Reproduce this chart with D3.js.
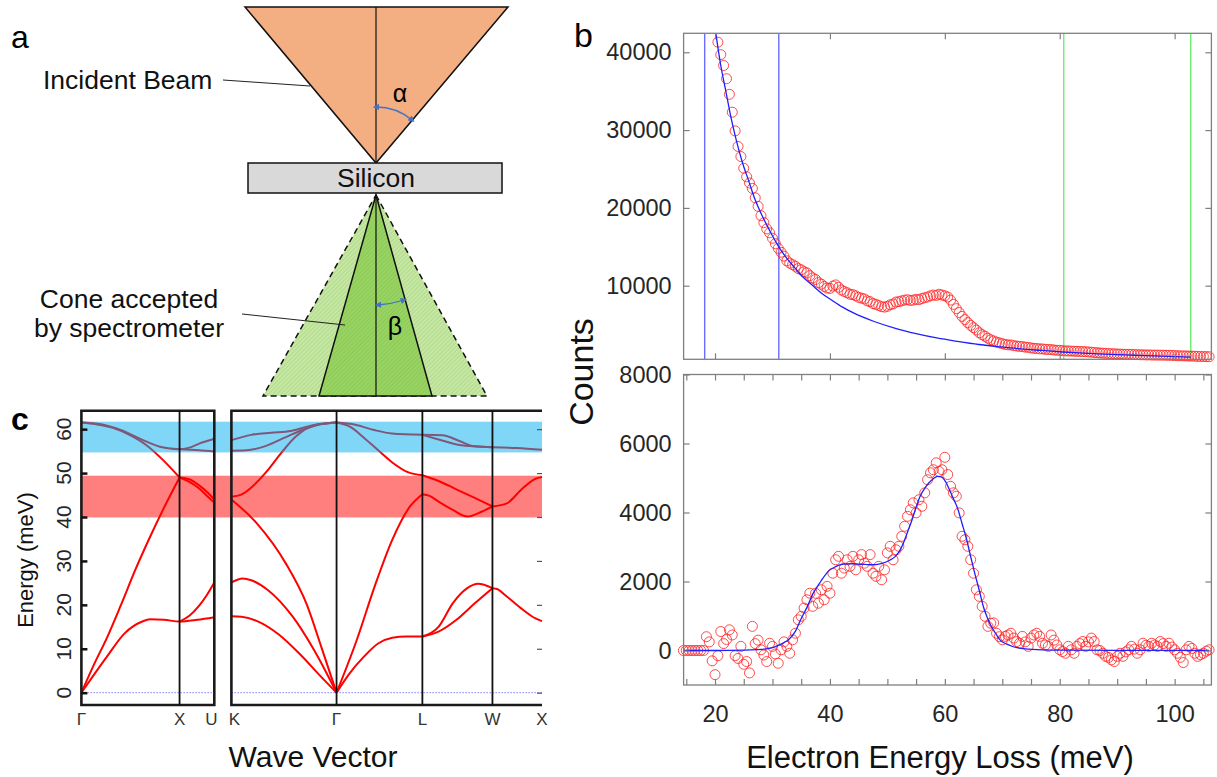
<!DOCTYPE html>
<html>
<head>
<meta charset="utf-8">
<script src="https://cdnjs.cloudflare.com/ajax/libs/d3/7.8.5/d3.min.js"></script>
<style>
  body { margin: 0; background: #fff; }
  svg { display: block; font-family: "Liberation Sans", Arial, sans-serif; }
</style>
</head>
<body>
<script>
// ---------------- data ----------------
// panel b, raw spectrum (counts), energies start at 20.5 meV, 0.5 meV channels
const rawStart = 20.5, channelStep = 0.5;
const rawCounts = [
  41300, 39700, 38300, 36600, 34600, 32300, 29900, 27900, 26600, 25100,
  24000, 23200, 22500, 21300, 20200, 19000, 18100, 17300, 16800, 16100,
  15400, 14800, 14300, 13800, 13200, 12900, 12700, 12500, 12200, 12050,
  11800, 11650, 11300, 11000, 10800, 10400, 10200, 9900, 9700, 9650,
  9950, 10100, 9800, 9450, 9250, 9100, 8900, 8850, 8700, 8500,
  8400, 8300, 8050, 7950, 7700, 7600, 7450, 7300, 7250, 7350,
  7550, 7650, 7900, 7950, 8050, 8150, 8200, 8100, 8150, 8250,
  8200, 8350, 8450, 8550, 8700, 8800, 8750, 8900, 8800, 8700,
  8550, 8150, 7600, 7050, 6550, 6050, 5650, 5250, 4900, 4600,
  4300, 3950, 3700, 3500, 3250, 3050, 2900, 2750, 2650, 2550,
  2450, 2400, 2380, 2300, 2250, 2200, 2180, 2100, 2080, 2000,
  1950, 1930, 1880, 1870, 1820, 1800, 1790, 1740, 1700, 1690,
  1650, 1620, 1610, 1590, 1580, 1560, 1550, 1530, 1520, 1480,
  1460, 1410, 1390, 1350, 1330, 1300, 1290, 1260, 1250, 1220,
  1210, 1190, 1180, 1180, 1160, 1150, 1140, 1120, 1120, 1100,
  1100, 1090, 1080, 1080, 1070, 1070, 1060, 1050, 1040, 1020,
  1000, 990, 985, 970, 960, 950, 935, 920, 905, 895,
  885, 870
];
// power-law background fit
const bgEnergy = [18.2, 19, 20.15, 21, 21.8, 22.7, 23.6, 24.7, 25.8, 26.9, 28, 29.5, 31.1, 32.5, 33.9,
  35.3, 36.8, 38.6, 40.4, 42.2, 44.1, 47.7, 51.4, 55, 58.6, 62.2, 65.9, 69.5, 73.2, 76.8, 80.5,
  84.1, 87.8, 91.4, 95.1, 98.9, 102.8];
const bgCounts = [54000, 48800, 42400, 38300, 35300, 31900, 29000, 26000, 23600, 21200, 19300, 17100, 15000, 13500, 12300,
  11100, 10150, 9000, 8100, 7250, 6500, 5400, 4520, 3840, 3280, 2840, 2440, 2150, 1880, 1680, 1480,
  1330, 1210, 1100, 1000, 910, 830];
const fitWindow = [18.2, 31.1];   // blue markers
const bgWindow = [80.7, 102.8];   // green markers

// background subtracted spectrum, energies start at 14.5 meV
const subStart = 14.5;
const subCounts = [
  0, 0, 0, 0, 0, 0, 0, 0, 400, 250,
  -300, -700, -150, 550, 200, 320, 600, 450, -150, -230,
  120, -400, -320, -650, 700, 200, 300, 20, -130, -320,
  210, 120, -100, -370, 20, 250, 120, -80, 310, 500,
  890, 990, 1230, 1470, 1660, 1280, 1660, 1370, 1760, 1470,
  1860, 1660, 2240, 2630, 2730, 2240, 2390, 2630, 2440, 2730,
  2340, 2630, 2780, 2530, 2440, 2780, 2240, 2150, 2440, 2050,
  2340, 2830, 3020, 2630, 2920, 3020, 3310, 3600, 3890, 4080,
  4280, 3990, 4370, 4180, 4570, 4950, 5150, 5240, 5440, 5190,
  5240, 5600, 5100, 4760, 4570, 4470, 3990, 3310, 3210, 3020,
  2630, 2240, 1760, 1570, 1280, 990, 700, 790, 800, 500,
  400, 310, 410, 450, 500, 360, 260, 210, 410, 250,
  120, 360, 450, 500, 410, 210, 160, 120, 450, 300,
  160, 20, -30, -80, 120, 20, -80, 120, 200, 260,
  120, 250, 360, 260, 20, 0, -80, -170, -200, -270,
  -320, -170, -80, -170, -40, 20, 120, 40, -80, 20,
  210, 150, 120, 210, 160, 120, 260, 200, 120, 210,
  100, 20, -80, -200, -350, 20, 120, 60, -80, -170,
  -120, -80, -20, 20
];
const peakFitEnergy = [14.5, 20, 25, 28, 30, 31, 32, 32.8, 34, 34.9, 36, 37.1, 38.4, 39.7, 41, 41.9, 43, 44.1,
  45.5, 47, 48, 49.2, 50.3, 51.4, 52.1, 52.8, 53.5, 54.3, 55, 55.7, 56.5, 57.2, 58, 58.7, 59.4, 60.1,
  60.8, 61.5, 62.3, 63, 63.8, 64.5, 65.2, 66, 66.7, 67.4, 68.1, 68.9, 69.6, 70.7, 71.8, 73, 74.7, 77,
  80.5, 90, 106];
const peakFitCounts = [0, 0, 10, 30, 80, 150, 230, 310, 560, 890, 1250, 1664, 2000, 2293, 2430, 2486, 2510, 2515,
  2500, 2486, 2490, 2534, 2610, 2728, 2880, 3115, 3430, 3792, 4150, 4469, 4700, 4856, 4980, 5049, 5030, 4900,
  4662, 4400, 4082, 3680, 3211, 2720, 2244, 1740, 1277, 950, 696, 480, 310, 190, 116, 70, 39, 20,
  10, 3, 0];
const rawYTicks = [10000, 20000, 30000, 40000];
const subYTicks = [0, 2000, 4000, 6000, 8000];
const energyTicks = d3.range(15, 106, 5);
const energyLabels = [20, 40, 60, 80, 100];

// panel c, silicon phonon dispersion [k, meV]
const leftPath = ["Γ", "X", "U"], leftPathK = [0, 1, 1.354];
const rightPath = ["K", "Γ", "L", "W", "X"], rightPathK = [0, 1.061, 1.927, 2.634, 3.134];
const leftBranches = [
  [[0,0],[0.1,3.2],[0.26,8.2],[0.44,13.5],[0.62,16.2],[0.7,16.7],[0.84,16.6],[1,16.2],[1.18,16.6],[1.354,17.2]],
  [[1,16.2],[1.1,17.5],[1.2,19.8],[1.28,22.3],[1.354,25.1]],
  [[0,0],[0.13,6.5],[0.26,12.5],[0.4,19.8],[0.55,28],[0.7,35.5],[0.85,42.5],[1,49]],
  [[1,49],[1.1,48.6],[1.2,47.2],[1.28,45.7],[1.354,44]],
  [[0,61.5],[0.15,61.1],[0.32,60.3],[0.49,58.7],[0.66,56.4],[0.83,53],[1,49]],
  [[1,49],[1.1,48],[1.2,46.5],[1.28,44.8],[1.354,43.3]],
  [[0,61.5],[0.2,61.1],[0.4,59.8],[0.6,57.8],[0.8,56],[1,55.4]],
  [[1,55.4],[1.2,55.2],[1.354,54.9]],
  [[1,55.4],[1.1,55.8],[1.2,56.7],[1.354,57.8]]
];
const rightBranches = [
  // K - Γ
  [[0,17.4],[0.1,17.3],[0.26,16.3],[0.475,13.3],[0.69,8.8],[0.906,3.6],[1.061,0]],
  [[0,25.1],[0.115,26],[0.2,25.6],[0.367,23.4],[0.619,17.3],[0.834,9.7],[1.061,0]],
  [[0,44],[0.259,38.5],[0.547,29.5],[0.762,20],[0.906,10.5],[1.061,0]],
  [[0,44.6],[0.1,45.1],[0.2,46.7],[0.35,50.2],[0.5,54.5],[0.65,58.3],[0.85,61],[1.061,61.5]],
  [[0,57.5],[0.2,58.7],[0.4,59.2],[0.6,59.6],[0.8,60.8],[1.061,61.5]],
  [[0,55.1],[0.15,55.2],[0.35,56.2],[0.55,58.2],[0.75,60.1],[0.9,61.1],[1.061,61.5]],
  // Γ - L
  [[1.061,0],[1.193,4.4],[1.337,8.2],[1.48,11.2],[1.623,12.5],[1.766,12.8],[1.927,12.8]],
  [[1.061,0],[1.265,12],[1.444,24.1],[1.623,34.8],[1.802,42.4],[1.927,45.2]],
  [[1.061,61.5],[1.2,60.5],[1.34,58],[1.49,55],[1.63,52.3],[1.78,50.2],[1.927,49.5]],
  [[1.061,61.5],[1.25,61],[1.44,59.8],[1.62,59],[1.927,58.7]],
  // L - W
  [[1.927,12.8],[2.09,15],[2.235,20.4],[2.38,23.8],[2.489,24.8],[2.634,23.8]],
  [[1.927,12.8],[2.09,13.9],[2.271,16.6],[2.453,20.3],[2.634,23.8]],
  [[1.927,45.2],[2.0,44.8],[2.09,43.5],[2.235,41.6],[2.38,40.1],[2.525,41.2],[2.634,42.4]],
  [[1.927,49.5],[2.09,48.2],[2.27,46.3],[2.45,44.4],[2.634,42.4]],
  [[1.927,58.7],[2.13,58.6],[2.3,57.3],[2.45,56.1],[2.634,55.9]],
  [[1.927,58.7],[2.1,57.6],[2.3,56.4],[2.634,55.9]],
  // W - X
  [[2.634,23.8],[2.68,23.6],[2.779,21.9],[2.924,19.2],[3.069,16.9],[3.134,16.3]],
  [[2.634,42.4],[2.779,43.1],[2.924,46.2],[3.069,48.7],[3.134,49.1]],
  [[2.634,55.9],[2.88,55.7],[3.134,55.3]]
];
const opticalBand = [54.7, 61.7];
const peakBand = [39.9, 49.4];
const dispersionTicks = [0, 10, 20, 30, 40, 50, 60];

// ---------------- figure ----------------
const svg = d3.select("body").append("svg")
  .attr("width", 1217)
  .attr("height", 777);

const defs = svg.append("defs");

function hatch(id, bg, fg) {
  const p = defs.append("pattern")
    .attr("id", id)
    .attr("width", 3)
    .attr("height", 3)
    .attr("patternUnits", "userSpaceOnUse")
    .attr("patternTransform", "rotate(45)");
  p.append("rect").attr("width", 3).attr("height", 3).attr("fill", bg);
  p.append("line").attr("x1", 0).attr("y1", 0).attr("x2", 0).attr("y2", 3)
    .attr("stroke", fg).attr("stroke-width", 1.2);
}
hatch("hatchOuter", "#c6e7a5", "#a3d477");
hatch("hatchInner", "#98d363", "#84c54c");

["arrowEnd", "arrowStart"].forEach((id, i) => {
  defs.append("marker")
    .attr("id", id)
    .attr("viewBox", "0 0 10 10")
    .attr("refX", 5).attr("refY", 5)
    .attr("markerWidth", 5).attr("markerHeight", 5)
    .attr("orient", i === 0 ? "auto" : "auto-start-reverse")
    .append("path")
    .attr("d", "M0,0 L10,5 L0,10 z")
    .attr("fill", "#4472c4");
});

// ---- panel a: schematic ----
const pa = svg.append("g");

pa.append("text").attr("x", 11).attr("y", 48)
  .style("font-size", "32px").text("a");

pa.append("path")
  .attr("d", "M245,7 L508,7 L376,163 Z")
  .attr("fill", "#f3ae82")
  .attr("stroke", "#111")
  .attr("stroke-width", 1.5);
pa.append("line").attr("x1", 376).attr("y1", 7).attr("x2", 376).attr("y2", 163)
  .attr("stroke", "#111").attr("stroke-width", 1.2);
pa.append("path")
  .attr("d", "M376,107 A56,56 0 0 1 412,120")
  .attr("fill", "none").attr("stroke", "#4472c4").attr("stroke-width", 1.3)
  .attr("marker-start", "url(#arrowStart)").attr("marker-end", "url(#arrowEnd)");
pa.append("text").attr("x", 400).attr("y", 102).attr("text-anchor", "middle")
  .style("font-size", "25px").text("α");

pa.append("line").attr("x1", 223).attr("y1", 80).attr("x2", 310).attr("y2", 86)
  .attr("stroke", "#222").attr("stroke-width", 1);
pa.append("text").attr("x", 43).attr("y", 89)
  .style("font-size", "26.5px").style("fill", "#111").text("Incident Beam");

pa.append("rect").attr("x", 248).attr("y", 163).attr("width", 254).attr("height", 30)
  .attr("fill", "#d9d9d9").attr("stroke", "#111").attr("stroke-width", 1.5);
pa.append("text").attr("x", 376).attr("y", 187).attr("text-anchor", "middle")
  .style("font-size", "26.5px").style("fill", "#111").text("Silicon");

// acceptance cone
pa.append("path")
  .attr("d", "M376,195 L487,396 L263,396 Z")
  .attr("fill", "url(#hatchOuter)")
  .attr("stroke", "#111").attr("stroke-width", 1.5)
  .attr("stroke-dasharray", "6,4");
pa.append("path")
  .attr("d", "M376,195 L432,396 L319,396 Z")
  .attr("fill", "url(#hatchInner)")
  .attr("stroke", "#111").attr("stroke-width", 1.5);
pa.append("line").attr("x1", 376).attr("y1", 195).attr("x2", 376).attr("y2", 396)
  .attr("stroke", "#111").attr("stroke-width", 1.2);
pa.append("path")
  .attr("d", "M378,305 A110,110 0 0 0 404,300")
  .attr("fill", "none").attr("stroke", "#4472c4").attr("stroke-width", 1.3)
  .attr("marker-start", "url(#arrowStart)").attr("marker-end", "url(#arrowEnd)");
pa.append("text").attr("x", 395).attr("y", 335).attr("text-anchor", "middle")
  .style("font-size", "25px").text("β");

pa.append("line").attr("x1", 242).attr("y1", 314).attr("x2", 345).attr("y2", 325)
  .attr("stroke", "#222").attr("stroke-width", 1);
pa.append("text").attr("x", 129).attr("y", 308).attr("text-anchor", "middle")
  .style("font-size", "26.5px").style("fill", "#111").text("Cone accepted");
pa.append("text").attr("x", 129).attr("y", 337).attr("text-anchor", "middle")
  .style("font-size", "26.5px").style("fill", "#111").text("by spectrometer");

// ---- panel b: spectra ----
const bx = d3.scaleLinear().domain([14.53, 106.4]).range([683.6, 1211.4]);
const yTop = d3.scaleLinear().domain([540, 42440]).range([359.3, 33.3]);
const yBot = d3.scaleLinear().domain([-1000, 8000]).range([685, 374.5]);

const rawData = rawCounts.map((c, i) => ({ e: rawStart + i * channelStep, c }));
const subData = subCounts.map((c, i) => ({ e: subStart + i * channelStep, c }));
const bgData = bgEnergy.map((e, i) => ({ e, c: bgCounts[i] }));
const peakData = peakFitEnergy.map((e, i) => ({ e, c: peakFitCounts[i] }));

function clip(id, y0, y1) {
  defs.append("clipPath").attr("id", id)
    .append("rect")
    .attr("x", bx.range()[0]).attr("y", y0)
    .attr("width", bx.range()[1] - bx.range()[0]).attr("height", y1 - y0);
}
clip("clipTop", 33.3, 359.3);
clip("clipBot", 374.5, 685);

function styleAxis(g, labelSize) {
  g.select(".domain").remove();
  g.selectAll(".tick line").attr("stroke", "#7f7f7f").attr("stroke-width", 1.2);
  g.selectAll(".tick text")
    .style("font-size", labelSize)
    .style("font-family", "'Liberation Sans', Arial, sans-serif")
    .attr("fill", "#262626");
}

function spectrumAxes(y, yTicks, xTickVals, xLabels) {
  const g = svg.append("g");
  const [x0, x1] = bx.range();
  const [yb, yt] = y.range();
  g.append("g").attr("transform", `translate(${x0},0)`)
    .call(d3.axisLeft(y).tickValues(yTicks).tickSize(-6).tickPadding(12).tickFormat(d3.format("d")))
    .call(s => styleAxis(s, "23.5px"));
  g.append("g").attr("transform", `translate(${x1},0)`)
    .call(d3.axisRight(y).tickValues(yTicks).tickSize(-6).tickFormat(""))
    .call(s => styleAxis(s, "0px"));
  g.append("g").attr("transform", `translate(0,${yt})`)
    .call(d3.axisTop(bx).tickValues(xTickVals).tickSize(-6).tickFormat(""))
    .call(s => styleAxis(s, "0px"));
  g.append("g").attr("transform", `translate(0,${yb})`)
    .call(d3.axisBottom(bx).tickValues(xTickVals).tickSize(-6).tickPadding(20)
      .tickFormat(d => (xLabels && energyLabels.includes(d)) ? d : ""))
    .call(s => styleAxis(s, "23.5px"));
  g.append("rect")
    .attr("x", x0).attr("y", yt)
    .attr("width", x1 - x0).attr("height", yb - yt)
    .attr("fill", "none").attr("stroke", "#7f7f7f").attr("stroke-width", 1.3);
}

// top plot
const topPlot = svg.append("g");
topPlot.selectAll("line.window")
  .data(fitWindow.map(e => ({ e, col: "#3b3bff" })).concat(bgWindow.map(e => ({ e, col: "#3de83d" }))))
  .join("line")
  .attr("x1", d => bx(d.e)).attr("x2", d => bx(d.e))
  .attr("y1", yTop.range()[1]).attr("y2", yTop.range()[0])
  .attr("stroke", d => d.col).attr("stroke-opacity", 0.75).attr("stroke-width", 1.4);
topPlot.selectAll("circle")
  .data(rawData.filter(d => d.c <= yTop.domain()[1]))
  .join("circle")
  .attr("cx", d => bx(d.e)).attr("cy", d => yTop(d.c)).attr("r", 5)
  .attr("fill", "none").attr("stroke", "#ff2020").attr("stroke-opacity", 0.8).attr("stroke-width", 1);
topPlot.append("path")
  .datum(bgData)
  .attr("clip-path", "url(#clipTop)")
  .attr("fill", "none").attr("stroke", "#1f1fff").attr("stroke-width", 1.3)
  .attr("d", d3.line().curve(d3.curveMonotoneX).x(d => bx(d.e)).y(d => yTop(d.c)));
spectrumAxes(yTop, rawYTicks, energyLabels, false);

// bottom plot
const botPlot = svg.append("g");
botPlot.selectAll("circle")
  .data(subData)
  .join("circle")
  .attr("cx", d => bx(d.e)).attr("cy", d => yBot(d.c)).attr("r", 5)
  .attr("fill", "none").attr("stroke", "#ff2020").attr("stroke-opacity", 0.8).attr("stroke-width", 1);
botPlot.append("path")
  .datum(peakData)
  .attr("clip-path", "url(#clipBot)")
  .attr("fill", "none").attr("stroke", "#1f1fff").attr("stroke-width", 1.3)
  .attr("d", d3.line().curve(d3.curveMonotoneX).x(d => bx(d.e)).y(d => yBot(d.c)));
spectrumAxes(yBot, subYTicks, energyTicks, true);

svg.append("text").attr("x", 574).attr("y", 47)
  .style("font-size", "34px").text("b");
svg.append("text")
  .attr("transform", "translate(593,372) rotate(-90)")
  .attr("text-anchor", "middle")
  .style("font-size", "34px").style("fill", "#111").text("Counts");
svg.append("text").attr("x", 940).attr("y", 768)
  .attr("text-anchor", "middle")
  .style("font-size", "31px").style("fill", "#111").text("Electron Energy Loss (meV)");

// ---- panel c: dispersion ----
const cy = d3.scaleLinear().domain([-2.8, 64.2]).range([705, 410.7]);
const cxL = d3.scaleLinear().domain([0, 1.354]).range([81.4, 214.3]);
const cxR = d3.scaleLinear().domain([0, 3.134]).range([231.4, 542]);
const pc = svg.append("g");

const branchLine = sx => d3.line().curve(d3.curveMonotoneX).x(d => sx(d[0])).y(d => cy(d[1]));
pc.selectAll("path.left").data(leftBranches).join("path")
  .attr("fill", "none").attr("stroke", "#ff0000").attr("stroke-width", 2)
  .attr("d", branchLine(cxL));
pc.selectAll("path.right").data(rightBranches).join("path")
  .attr("fill", "none").attr("stroke", "#ff0000").attr("stroke-width", 2)
  .attr("d", branchLine(cxR));

// highlighted energy ranges
pc.append("rect")
  .attr("x", cxL(0)).attr("width", cxR(3.134) - cxL(0))
  .attr("y", cy(opticalBand[1])).attr("height", cy(opticalBand[0]) - cy(opticalBand[1]))
  .attr("fill", "#00aeef").attr("fill-opacity", 0.5);
pc.append("rect")
  .attr("x", cxL(0)).attr("width", cxR(3.134) - cxL(0))
  .attr("y", cy(peakBand[1])).attr("height", cy(peakBand[0]) - cy(peakBand[1]))
  .attr("fill", "#ff0000").attr("fill-opacity", 0.5);

// zero line
[cxL, cxR].forEach(sx => {
  pc.append("line")
    .attr("x1", sx.range()[0]).attr("x2", sx.range()[1])
    .attr("y1", cy(0)).attr("y2", cy(0))
    .attr("stroke", "#7f7fff").attr("stroke-width", 1).attr("stroke-dasharray", "1.5,1.5");
});

// frames and symmetry lines
const [cTop, cBot] = [cy.range()[1], cy.range()[0]];
pc.append("path")
  .attr("d", `M${cxL(0)},${cTop} H${cxL(1.354)} V${cBot} H${cxL(0)} Z`)
  .attr("fill", "none").attr("stroke", "#1a1a1a").attr("stroke-width", 2.6);
pc.append("path")
  .attr("d", `M${cxR(3.134)},${cTop} H${cxR(0)} V${cBot} H${cxR(3.134)}`)
  .attr("fill", "none").attr("stroke", "#1a1a1a").attr("stroke-width", 2.6);
pc.selectAll("line.sym")
  .data([{ s: cxL, k: leftPathK[1] }].concat(rightPathK.slice(1, 4).map(k => ({ s: cxR, k }))))
  .join("line")
  .attr("x1", d => d.s(d.k)).attr("x2", d => d.s(d.k))
  .attr("y1", cTop).attr("y2", cBot)
  .attr("stroke", "#111").attr("stroke-width", 1.8);

// energy ticks
pc.append("g").attr("transform", `translate(${cxL(0)},0)`)
  .call(d3.axisLeft(cy).tickValues(dispersionTicks).tickSize(-6).tickFormat(""))
  .call(g => {
    g.select(".domain").remove();
    g.selectAll(".tick line").attr("stroke", "#111").attr("stroke-width", 2.5);
  });
pc.append("g").attr("transform", `translate(${cxR(3.134)},0)`)
  .call(d3.axisRight(cy).tickValues(dispersionTicks).tickSize(-5).tickFormat(""))
  .call(g => {
    g.select(".domain").remove();
    g.selectAll(".tick line").attr("stroke", "#555").attr("stroke-width", 1.2);
  });
pc.selectAll("text.ytick").data(dispersionTicks).join("text")
  .attr("transform", d => `translate(71,${cy(d)}) rotate(-90)`)
  .attr("text-anchor", "middle")
  .style("font-size", "21px").style("fill", "#262626")
  .text(d => d);

// path labels
pc.selectAll("text.kl").data(leftPath.map((t, i) => ({ t, x: cxL(leftPathK[i]) }))
  .concat(rightPath.map((t, i) => ({ t, x: cxR(rightPathK[i]) }))))
  .join("text")
  .attr("x", d => d.x + (d.t === "U" ? -3 : d.t === "K" ? 3 : 0)).attr("y", 725)
  .attr("text-anchor", "middle")
  .style("font-size", "17px").style("fill", "#333")
  .text(d => d.t);

pc.append("text")
  .attr("transform", "translate(33,560) rotate(-90)")
  .attr("text-anchor", "middle")
  .style("font-size", "22px").style("fill", "#111").text("Energy (meV)");
pc.append("text").attr("x", 313).attr("y", 767)
  .attr("text-anchor", "middle")
  .style("font-size", "30px").style("fill", "#111").text("Wave Vector");
pc.append("text").attr("x", 11).attr("y", 430)
  .style("font-size", "32px").style("font-weight", "bold").text("c");
</script>
</body>
</html>
